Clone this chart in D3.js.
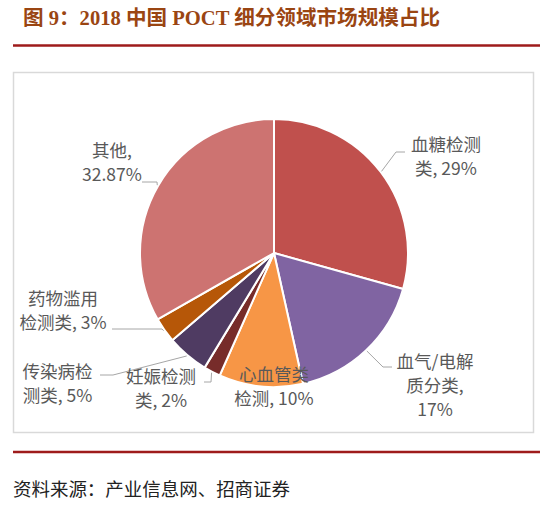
<!DOCTYPE html>
<html>
<head>
<meta charset="utf-8">
<script src="https://cdn.jsdelivr.net/npm/d3@7"></script>
<style>
  html, body { margin: 0; padding: 0; background: #fff; }
</style>
</head>
<body>
<div id="chart"></div>
<script>
// data
const categories = ['血糖检测类', '血气/电解质分类', '心血管类检测', '妊娠检测类', '传染病检测类', '药物滥用检测类', '其他'];
const values = [29, 17, 10, 2, 5, 3, 32.87];
const labelLines = [
    ['血糖检测', '类, 29%'],
    ['血气/电解', '质分类,', '17%'],
    ['心血管类', '检测, 10%'],
    ['妊娠检测', '类, 2%'],
    ['传染病检', '测类, 5%'],
    ['药物滥用', '检测类, 3%'],
    ['其他,', '32.87%']
];
const colors = ['#C0504D', '#8064A2', '#F79646', '#772C2A', '#4F3B62', '#B65708', '#CD7371'];

const title = '图 9：2018 中国 POCT 细分领域市场规模占比';
const source = '资料来源：产业信息网、招商证券';

// label layout (text centre + leader elbow points), svg coords
const labelLayout = [
    { x: 446, y: 145, leader: [[396, 152], [405, 152]] },
    { x: 435, y: 362, leader: [[383, 367], [392, 367]] },
    { x: 274, y: 375, leader: null },
    { x: 161, y: 377, leader: [[211, 382], [204, 382]] },
    { x: 57.5, y: 372, leader: [[113, 375], [100, 375]] },
    { x: 63, y: 299, leader: [[162, 329], [112, 329]] },
    { x: 112, y: 151, leader: [[157, 182], [142, 182]] }
];

const W = 554, H = 507;
const cx = 274, cy = 253, radius = 134;

const svg = d3.select('#chart')
    .append('svg')
    .attr('width', W)
    .attr('height', H);

// title + rules
svg.append('text')
    .attr('x', 23)
    .attr('y', 25)
    .attr('textLength', 417)
    .attr('lengthAdjust', 'spacingAndGlyphs')
    .style('font-family', '"Liberation Serif", "Noto Sans CJK SC", serif')
    .style('font-weight', 'bold')
    .style('font-size', '20px')
    .style('fill', '#9A4512')
    .text(title);

svg.append('line')
    .attr('x1', 13).attr('x2', 540)
    .attr('y1', 45.5).attr('y2', 45.5)
    .attr('stroke', '#9E1B1B')
    .attr('stroke-width', 2.5);

svg.append('line')
    .attr('x1', 13).attr('x2', 540)
    .attr('y1', 452).attr('y2', 452)
    .attr('stroke', '#9E1B1B')
    .attr('stroke-width', 2.5);

// chart frame
svg.append('rect')
    .attr('x', 13.5).attr('y', 72.5)
    .attr('width', 520).attr('height', 360)
    .attr('fill', '#fff')
    .attr('stroke', '#D9D9D9')
    .attr('stroke-width', 1.5);

// pie
const pie = d3.pie().sort(null).value(d => d);
const arcs = pie(values);
const arc = d3.arc().innerRadius(0).outerRadius(radius);
const edgeArc = d3.arc().innerRadius(radius + 1).outerRadius(radius + 1);

const g = svg.append('g')
    .attr('transform', `translate(${cx}, ${cy})`);

g.selectAll('.slice')
    .data(arcs)
    .enter().append('path')
    .attr('class', 'slice')
    .attr('d', arc)
    .attr('fill', (_, i) => colors[i])
    .attr('stroke', '#fff')
    .attr('stroke-width', 2)
    .attr('stroke-linejoin', 'round');

// leader lines
arcs.forEach((a, i) => {
    const lay = labelLayout[i];
    if (!lay.leader) return;
    const [ex, ey] = edgeArc.centroid(a);
    const pts = [[cx + ex, cy + ey]].concat(lay.leader);
    svg.append('path')
        .attr('d', d3.line()(pts))
        .attr('fill', 'none')
        .attr('stroke', '#A6A6A6')
        .attr('stroke-width', 1);
});

// labels
const lineH = 24;
categories.forEach((c, i) => {
    const lay = labelLayout[i];
    const t = svg.append('text')
        .attr('text-anchor', 'middle')
        .style('font-family', '"Noto Sans CJK SC", sans-serif')
        .style('font-size', '17.5px')
        .style('fill', '#595959');
    labelLines[i].forEach((ln, k) => {
        t.append('tspan')
            .attr('x', lay.x)
            .attr('y', lay.y + k * lineH + 6)
            .text(ln);
    });
});

// source
svg.append('text')
    .attr('x', 13)
    .attr('y', 496)
    .attr('textLength', 277)
    .attr('lengthAdjust', 'spacingAndGlyphs')
    .style('font-family', '"Liberation Serif", "Noto Sans CJK SC", serif')
    .style('font-size', '18px')
    .style('fill', '#222')
    .text(source);
</script>
</body>
</html>
